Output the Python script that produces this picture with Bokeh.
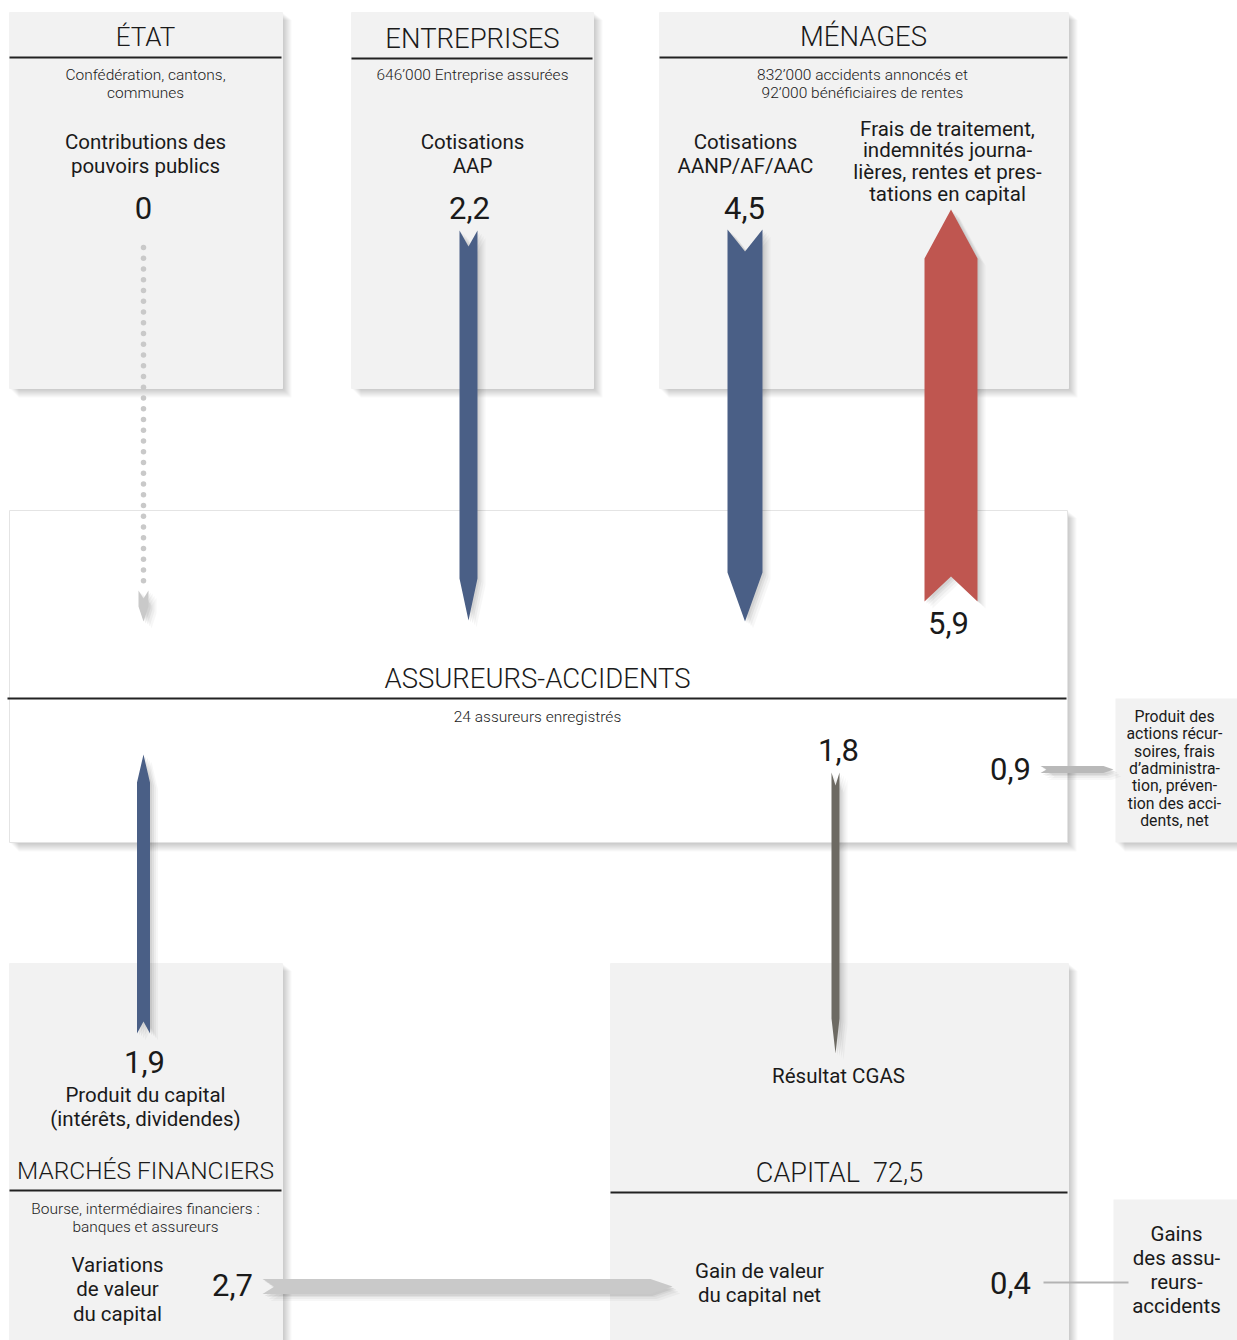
import numpy as np
from bokeh.plotting import figure
from bokeh.models import Range1d, ColumnDataSource
from bokeh.embed import file_html
from bokeh.resources import INLINE
from bokeh.core.properties import value

# ---------------- data ----------------
flow_keys = ["etat", "entreprises", "menages", "prestations", "cgas", "actions", "produit", "variations", "gains"]
flow_values = [0.0, 2.2, 4.5, 5.9, 1.8, 0.9, 1.9, 2.7, 0.4]
capital_value = 72.5

box_titles = ["ÉTAT", "ENTREPRISES", "MÉNAGES", "ASSUREURS-ACCIDENTS", "MARCHÉS FINANCIERS", "CAPITAL"]
box_subtitles = [
    ["Confédération, cantons,", "communes"],
    ["646’000 Entreprise assurées"],
    ["832’000 accidents annoncés et", "92’000 bénéficiaires de rentes"],
    ["24 assureurs enregistrés"],
    ["Bourse, intermédiaires financiers :", "banques et assureurs"],
    [],
]
flow_captions = {
    "etat": ["Contributions des", "pouvoirs publics"],
    "entreprises": ["Cotisations", "AAP"],
    "menages": ["Cotisations", "AANP/AF/AAC"],
    "prestations": ["Frais de traitement,", "indemnités journa-", "lières, rentes et pres-", "tations en capital"],
    "cgas": ["Résultat CGAS"],
    "actions": ["Produit des", "actions récur-", "soires, frais", "d’administra-", "tion, préven-", "tion des acci-", "dents, net"],
    "produit": ["Produit du capital", "(intérêts, dividendes)"],
    "variations": ["Variations", "de valeur", "du capital"],
    "gains": ["Gains", "des assu-", "reurs-", "accidents"],
}
capital_caption = ["Gain de valeur", "du capital net"]


def fmt(v):
    if v == 0:
        return "0"
    return f"{v:.1f}".replace(".", ",")


# ---------------- layout (pixels) ----------------
W, H = 1237, 1340
p = figure(width=W, height=H, x_range=Range1d(0, W), y_range=Range1d(H, 0),
           output_backend="svg", toolbar_location=None, min_border=0,
           x_axis_location=None, y_axis_location=None)
p.grid.visible = False
p.outline_line_color = None
p.background_fill_color = "white"
p.border_fill_color = "white"

# boxes: left, right, top, bottom, header line y, fill, title y, subtitle y0, title size
box_geom = [
    (9, 282, 12, 388, 57, "#f2f2f2", 36, 74, "26px"),
    (351, 593, 12, 388, 58, "#f2f2f2", 38, 74, "27.5px"),
    (659, 1068, 12, 388, 57, "#f2f2f2", 36, 74, "27.5px"),
    (9, 1067, 510, 842, 698, "#ffffff", 678, 716, "27.5px"),
    (9, 282, 963, 1345, 1190, "#f2f2f2", 1170, 1208, "24.5px"),
    (610, 1068, 963, 1345, 1192, "#f2f2f2", 1172, 1208, "27px"),
]
side_boxes = [(1115, 1237, 698, 842), (1113, 1237, 1199, 1345)]

# shadows
all_boxes = [(g[0], g[1], g[2], g[3]) for g in box_geom] + side_boxes
for k in range(1, 10):
    p.quad(left=[b[0] + k for b in all_boxes], right=[b[1] + k for b in all_boxes],
           top=[b[2] + k * 0.8 for b in all_boxes], bottom=[b[3] + k for b in all_boxes],
           fill_color="black", fill_alpha=0.022, line_color=None)

p.quad(left=[g[0] for g in box_geom], right=[g[1] for g in box_geom],
       top=[g[2] for g in box_geom], bottom=[g[3] for g in box_geom],
       fill_color=[g[5] for g in box_geom],
       line_color=["#f2f2f2", "#f2f2f2", "#f2f2f2", "#e4e4e4", "#f2f2f2", "#f2f2f2"], line_width=1)
p.quad(left=[b[0] for b in side_boxes], right=[b[1] for b in side_boxes],
       top=[b[2] for b in side_boxes], bottom=[b[3] for b in side_boxes],
       fill_color="#f2f2f2", line_color=None)

# header lines
p.segment(x0=[g[0] - (2 if i == 3 else 0) for i, g in enumerate(box_geom)],
          x1=[g[1] - 1 for g in box_geom],
          y0=[g[4] for g in box_geom], y1=[g[4] for g in box_geom],
          line_color="#222222", line_width=2)

# arrows: direction, centre, half width, start, notch depth, shoulder, tip, colour
arrow_geom = {
    "etat": ("down", 143, 5, 590, 8, 606, 621, "#c9c9c9"),
    "entreprises": ("down", 468, 9, 230, 16, 578, 620, "#4a5f86"),
    "menages": ("down", 744.5, 17.5, 229, 22, 572, 621, "#4a5f86"),
    "prestations": ("up", 950.5, 26.5, 601, 25, 258, 209, "#bf5650"),
    "cgas": ("down", 835, 4, 772, 13, 1018, 1053, "#6d6a63"),
    "actions": ("right", 769, 3.5, 1040, 6, 1103, 1113, "#b9b9b9"),
    "produit": ("up", 143, 6.5, 1033, 12, 782, 754, "#4a5f86"),
    "variations": ("right", 1286, 7.5, 262, 12, 650, 672, "#c9c9c9"),
}


def arrow_poly(d, c, h, s, n, sh, t):
    if d == "down":
        return [c - h, c, c + h, c + h, c, c - h], [s, s + n, s, sh, t, sh]
    if d == "up":
        return [c - h, c, c + h, c + h, c, c - h], [s, s - n, s, sh, t, sh]
    return [s, s + n, s, sh, t, sh], [c - h, c, c + h, c + h, c, c - h]


xs, ys, cols = [], [], []
for key in flow_keys:
    if key in arrow_geom:
        g = arrow_geom[key]
        ax, ay = arrow_poly(*g[:7])
        xs.append(ax)
        ys.append(ay)
        cols.append(g[7])

# arrow shadows
for dx, dy, a in [(2, 2, 0.06), (4, 3, 0.05), (6, 5, 0.04), (8, 7, 0.03)]:
    p.patches(xs=[[x + dx for x in ax] for ax in xs], ys=[[y + dy for y in ay] for ay in ys],
              fill_color="black", fill_alpha=a, line_color=None)
p.patches(xs=xs, ys=ys, fill_color=cols, line_color=None)

# dotted line for the zero flow
dots_y = np.arange(247, 590, 10.75)
p.scatter(x=np.full(len(dots_y), 143.0), y=dots_y, size=5.5, marker="circle",
          fill_color="#c9c9c9", line_color=None)

# thin line for gains (0,4)
p.segment(x0=[1043], x1=[1128], y0=[1282], y1=[1282], line_color="#b3b3b3", line_width=2)

# ---------------- texts ----------------
light = dict(x=[], y=[], text=[], size=[])
reg = dict(x=[], y=[], text=[], size=[])


def add(d, x, y, t, s):
    d["x"].append(x)
    d["y"].append(y)
    d["text"].append(t)
    d["size"].append(s)


def add_lines(d, x, y0, lines, s, dy):
    for i, l in enumerate(lines):
        add(d, x, y0 + i * dy, l, s)


title_x = [145, 472, 863, 537, 145, 839]
for i, title in enumerate(box_titles):
    g = box_geom[i]
    t = title if title != "CAPITAL" else "CAPITAL\u00a0\u00a0" + fmt(capital_value)
    add(light, title_x[i], g[6], t, g[8])
    add_lines(light, title_x[i] - (1 if i == 2 else 0), g[7], box_subtitles[i], "15.5px", 18)

vals = dict(zip(flow_keys, flow_values))
# value labels
value_pos = {
    "etat": (143, 207), "entreprises": (469, 207), "menages": (744, 207),
    "prestations": (948, 622), "cgas": (838, 749), "actions": (1010, 768),
    "produit": (144, 1061), "variations": (232, 1284), "gains": (1010, 1282),
}
for k in flow_keys:
    x, y = value_pos[k]
    add(reg, x, y, fmt(vals[k]), "31px")

# captions
cap_pos = {
    "etat": (145, 141, 24, "20.5px"), "entreprises": (472, 141, 24, "20.5px"),
    "menages": (745, 141, 24, "20.5px"), "prestations": (947, 128, 21.7, "20.5px"),
    "cgas": (838, 1075, 24, "20.5px"), "actions": (1174, 716, 17.3, "15.8px"),
    "produit": (145, 1094, 24, "20.5px"), "variations": (117, 1264, 24.5, "20.5px"),
    "gains": (1176, 1233, 24, "20.5px"),
}
for k in flow_keys:
    x, y, dy, s = cap_pos[k]
    add_lines(reg, x, y, flow_captions[k], s, dy)
add_lines(reg, 759, 1270, capital_caption, "20.5px", 24)

for d, fam in [(light, "Roboto Light"), (reg, "Roboto")]:
    p.text(x="x", y="y", text="text", source=ColumnDataSource(d), text_font_size="size",
           text_font=value(fam), text_align="center", text_baseline="middle",
           text_color="#1a1a1a")

open("out.html", "w").write(file_html(p, INLINE))
